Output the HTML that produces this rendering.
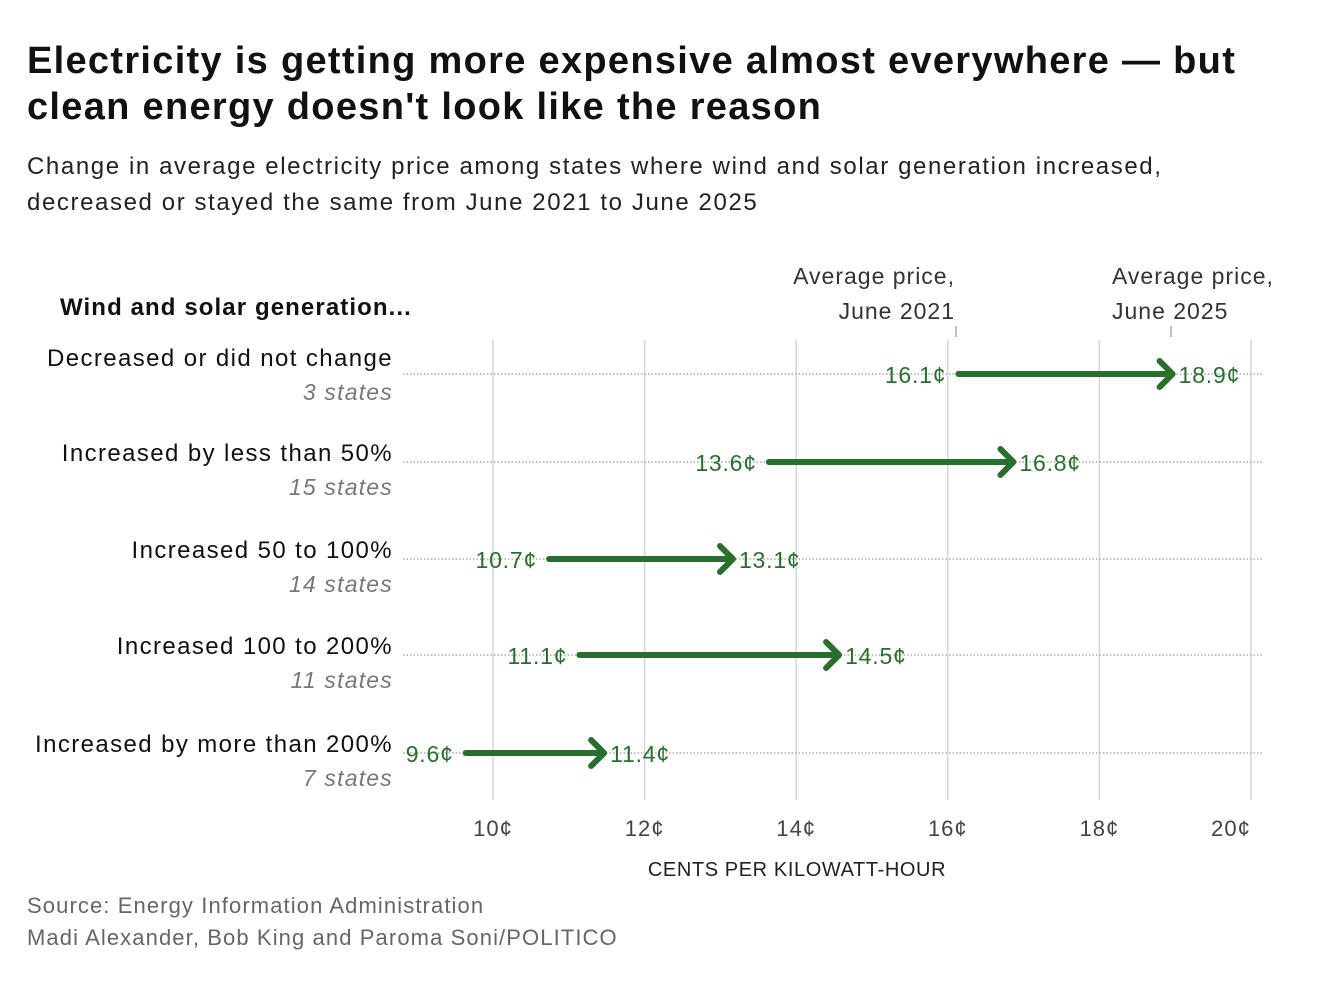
<!DOCTYPE html>
<html><head><meta charset="utf-8"><style>
body{margin:0;background:#fff;width:1332px;height:992px;overflow:hidden;font-family:"Liberation Sans",sans-serif;}
h1{position:absolute;left:27px;top:38px;margin:0;font-size:38px;line-height:46px;font-weight:bold;color:#111;letter-spacing:1.3px;white-space:nowrap;}
.sub{position:absolute;left:27px;top:149px;font-size:24px;line-height:36px;color:#222;letter-spacing:1.6px;white-space:nowrap;}
.foot{position:absolute;left:27px;top:890px;font-size:22px;line-height:32px;color:#666;letter-spacing:1.1px;}
svg{position:absolute;left:0;top:0;}
</style></head><body>
<h1>Electricity is getting more expensive almost everywhere — but<br>clean energy doesn't look like the reason</h1>
<div class="sub">Change in average electricity price among states where wind and solar generation increased,<br>decreased or stayed the same from June 2021 to June 2025</div>
<div class="foot">Source: Energy Information Administration<br>Madi Alexander, Bob King and Paroma Soni/POLITICO</div>
<svg id="chart" width="1332" height="992"></svg>
<script>
const categories=["Decreased or did not change","Increased by less than 50%","Increased 50 to 100%","Increased 100 to 200%","Increased by more than 200%"];
const stateCounts=["3 states","15 states","14 states","11 states","7 states"];
const price2021=[16.1,13.6,10.7,11.1,9.6];
const price2025=[18.9,16.8,13.1,14.5,11.4];
const ticks=[10,12,14,16,18,20];
const NS="http://www.w3.org/2000/svg";
const svg=document.getElementById('chart');
const x=v=>493+(v-10)*75.8;
const rowOffsets=[0,88,185,281,379];
const y=i=>374+rowOffsets[i];
const G="#2a6e2e";
function mk(t,a,txt){const e=document.createElementNS(NS,t);for(const k in a)e.setAttribute(k,a[k]);if(txt!=null)e.textContent=txt;svg.appendChild(e);return e;}
ticks.forEach((t,k)=>{
 const l=mk('line',{x1:x(t),x2:x(t),y1:340,y2:800,stroke:'#d6d6d6','stroke-width':1.5});
 
 
 const tx=mk('text',{x:k==ticks.length-1?x(t)-20:x(t),y:836,'text-anchor':'middle','font-size':22,fill:'#444','letter-spacing':1},t+'¢');
 
 
});
let at=mk('text',{x:797,y:876,'text-anchor':'middle','font-size':20,fill:'#222','letter-spacing':0.6},'CENTS PER KILOWATT-HOUR');


let hd=mk('text',{x:60,y:315,'font-size':24,'font-weight':'bold',fill:'#111','letter-spacing':1.1},'Wind and solar generation...');


[[955,'June 2021','end'],[1112,'June 2025','start']].forEach((c,k)=>{
 const a=mk('text',{x:c[0],y:284,'text-anchor':c[2],'font-size':23,fill:'#333','letter-spacing':1},'Average price,');
 
 
 const b=mk('text',{x:c[0],y:319,'text-anchor':c[2],'font-size':23,fill:'#333','letter-spacing':1},c[1]);
 
 
 const tk=mk('line',{x1:k?1171:956,x2:k?1171:956,y1:326,y2:337,stroke:'#aaa','stroke-width':1.5});
 
 
});
categories.forEach((c,i)=>{
 const yy=y(i);
 const lo=i===0?0:7;
 const dl=mk('line',{x1:403,x2:1263,y1:yy,y2:yy,stroke:'#999','stroke-width':1.2,'stroke-dasharray':'1.5 2'});
 
 
 const lb=mk('text',{x:393,y:yy-8+lo,'text-anchor':'end','font-size':24,fill:'#111','letter-spacing':1.4},c);
 
 
 const sc=mk('text',{x:393,y:yy+26+lo,'text-anchor':'end','font-size':23,'font-style':'italic',fill:'#777','letter-spacing':1.2},stateCounts[i]);
 
 
 const x0=x(price2021[i])+3,x1=x(price2025[i])+5;
 const sh=mk('line',{x1:x0,x2:x1-3,y1:yy,y2:yy,stroke:G,'stroke-width':6,'stroke-linecap':'round'});
 
 
 const hd2=mk('polyline',{points:`${x1-13},${yy-13} ${x1},${yy} ${x1-13},${yy+13}`,fill:'none',stroke:G,'stroke-width':6,'stroke-linecap':'round','stroke-linejoin':'round'});
 
 
 const s=mk('text',{x:x0-12,y:yy+9,'text-anchor':'end','font-size':23,fill:G,'letter-spacing':0.8},price2021[i].toFixed(1)+'¢');
 
 
 const e=mk('text',{x:x1+6,y:yy+9,'font-size':23,fill:G,'letter-spacing':0.8},price2025[i].toFixed(1)+'¢');
 
 
});
</script>
</body></html>
